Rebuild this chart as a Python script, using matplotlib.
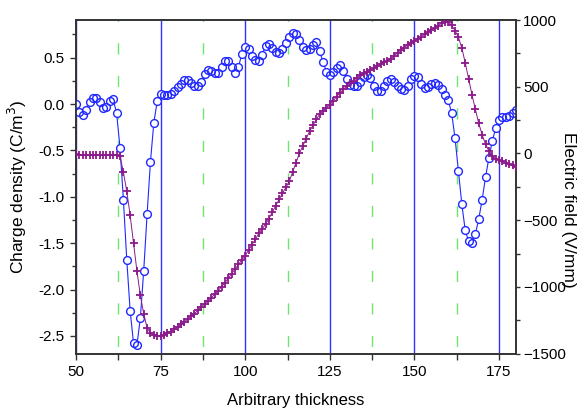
import numpy as np
import matplotlib
matplotlib.use("Agg")
import matplotlib.pyplot as plt
from matplotlib.ticker import MultipleLocator, FormatStrFormatter

plt.rcParams["font.family"] = ["Liberation Sans", "DejaVu Sans"]

# position le long de l'epaisseur (pas de 1)
thickness = list(range(50, 181))

# densite de charge (C/m^3), axe gauche
charge = [
    0.00, -0.09, -0.12, -0.06, 0.02, 0.07, 0.07, 0.02, -0.04, -0.03,   # 50-59
    0.03, 0.05, -0.10, -0.47, -1.03, -1.68, -2.23, -2.58, -2.60, -2.31,  # 60-69
    -1.80, -1.19, -0.62, -0.20, 0.03, 0.11, 0.10, 0.10, 0.11, 0.14,     # 70-79
    0.18, 0.22, 0.26, 0.26, 0.23, 0.19, 0.19, 0.24, 0.32, 0.37,         # 80-89
    0.36, 0.33, 0.33, 0.40, 0.46, 0.46, 0.40, 0.33, 0.40, 0.54,         # 90-99
    0.61, 0.59, 0.52, 0.47, 0.46, 0.53, 0.63, 0.65, 0.60, 0.56,         # 100-109
    0.55, 0.59, 0.66, 0.72, 0.77, 0.75, 0.69, 0.62, 0.58, 0.59,         # 110-119
    0.64, 0.67, 0.57, 0.45, 0.35, 0.31, 0.35, 0.39, 0.42, 0.36,         # 120-129
    0.27, 0.21, 0.19, 0.195, 0.24, 0.29, 0.31, 0.28, 0.19, 0.14,        # 130-139
    0.14, 0.19, 0.25, 0.27, 0.24, 0.19, 0.16, 0.15, 0.19, 0.27,         # 140-149
    0.30, 0.29, 0.22, 0.17, 0.18, 0.22, 0.225, 0.21, 0.16, 0.10,        # 150-159
    0.04, -0.10, -0.37, -0.72, -1.08, -1.36, -1.48, -1.50, -1.40, -1.24,  # 160-169
    -1.03, -0.79, -0.58, -0.40, -0.26, -0.17, -0.14, -0.14, -0.13, -0.10,  # 170-179
    -0.06,                                                              # 180
]

# champ electrique (V/mm), axe droit
field = [
    -5, -12, -15, -12, -10, -8, -10, -8, -8, -10,                # 50-59
    -10, -10, -12, -20, -141, -284, -465, -673, -881, -1062,     # 60-69
    -1200, -1308, -1345, -1358, -1365, -1365, -1358, -1348, -1335, -1318,  # 70-79
    -1300, -1282, -1262, -1242, -1222, -1200, -1176, -1152, -1128, -1104,  # 80-89
    -1080, -1055, -1028, -1000, -968, -935, -900, -866, -832, -798,        # 90-99
    -765, -725, -685, -642, -600, -565, -530, -488, -440, -392,            # 100-109
    -345, -300, -255, -210, -140, -70, 0, 55, 110, 165,                    # 110-119
    210, 255, 295, 320, 342, 365, 395, 425, 455, 480,                      # 120-129
    505, 525, 545, 568, 590, 602, 614, 625, 640, 655,                      # 130-139
    670, 683, 696, 710, 732, 754, 775, 793, 812, 830,                      # 140-149
    845, 860, 875, 892, 908, 925, 942, 958, 975, 988,                      # 150-159
    985, 960, 920, 870, 790, 680, 560, 440, 330, 225,                      # 160-169
    140, 70, 18, -20, -40, -52, -60, -70, -80, -90,                        # 170-179
    -98,                                                                   # 180
]

BLUE = "#2028ff"
PURPLE = "#8b1a8b"
GREEN = "#6ee66e"
AXC = "#333333"


def main():
    fig = plt.figure(figsize=(5.78, 4.15), dpi=100)
    ax = fig.add_axes([0.1315, 0.148, 0.7612, 0.8038])
    ax2 = ax.twinx()

    # quadrillage vertical : bleu plein (majeur), vert pointille (mineur)
    ax.xaxis.set_major_locator(MultipleLocator(25))
    ax.xaxis.set_minor_locator(MultipleLocator(12.5))
    ax.xaxis.grid(True, which="major", color="#3030ff", lw=1.0)
    ax.xaxis.grid(True, which="minor", color=GREEN, lw=1.0,
                  linestyle=(18.0, (8.0, 15.4)))
    ax.set_axisbelow(True)

    # densite de charge : cercles ouverts relies
    ax.plot(thickness, charge, "-", color=BLUE, lw=0.8, zorder=2)
    ax.plot(thickness, charge, "o", ms=5.6, mfc="white", mec="none", zorder=3)
    ax.plot(thickness, charge, "o", ms=5.6, mfc="none", mec=BLUE, mew=1.0,
            zorder=4)

    # champ electrique : croix
    ax2.plot(thickness, field, "-", color=PURPLE, lw=0.7, zorder=2)
    ax2.plot(thickness, field, "+", color=PURPLE, ms=5.5, mew=1.3, zorder=3)

    ax.set_xlim(50, 180)
    ax.set_ylim(-2.69, 0.906)
    ax2.set_ylim(-1500, 1000)

    ax.yaxis.set_major_locator(MultipleLocator(0.5))
    ax.yaxis.set_minor_locator(MultipleLocator(0.25))
    ax2.yaxis.set_major_locator(MultipleLocator(500))
    ax2.yaxis.set_minor_locator(MultipleLocator(250))
    ax.yaxis.set_major_formatter(FormatStrFormatter("%.1f"))

    for a in (ax, ax2):
        for sp in a.spines.values():
            sp.set_color(AXC)
            sp.set_linewidth(1.2)

    ax.tick_params(axis="both", which="major", direction="out", length=4.5,
                   width=1.0, color=AXC, labelsize=11, pad=4)
    ax.tick_params(axis="both", which="minor", direction="out", length=3,
                   width=1.0, color=AXC)
    ax.tick_params(axis="x", which="minor", length=4)
    ax2.tick_params(axis="y", which="major", direction="out", length=3,
                    width=1.0, color=AXC, labelsize=11, pad=2)
    ax2.tick_params(axis="y", which="minor", direction="out", length=3,
                    width=1.0, color=AXC)

    ax.set_xlabel("Arbitrary thickness", fontsize=12, labelpad=10)
    ax.set_ylabel("Charge density (C/m$^3$)", fontsize=12.5)
    ax.yaxis.set_label_coords(-0.106, 0.5)
    # le libelle droit chevauche un peu "-1000", comme sur l'original
    ax2.set_ylabel("Electric field (V/mm)", fontsize=12.5, rotation=-90,
                   va="center")
    ax2.yaxis.set_label_coords(1.12, 0.431)

    fig.savefig("out.png", dpi=100)
    plt.close(fig)


if __name__ == "__main__":
    main()
